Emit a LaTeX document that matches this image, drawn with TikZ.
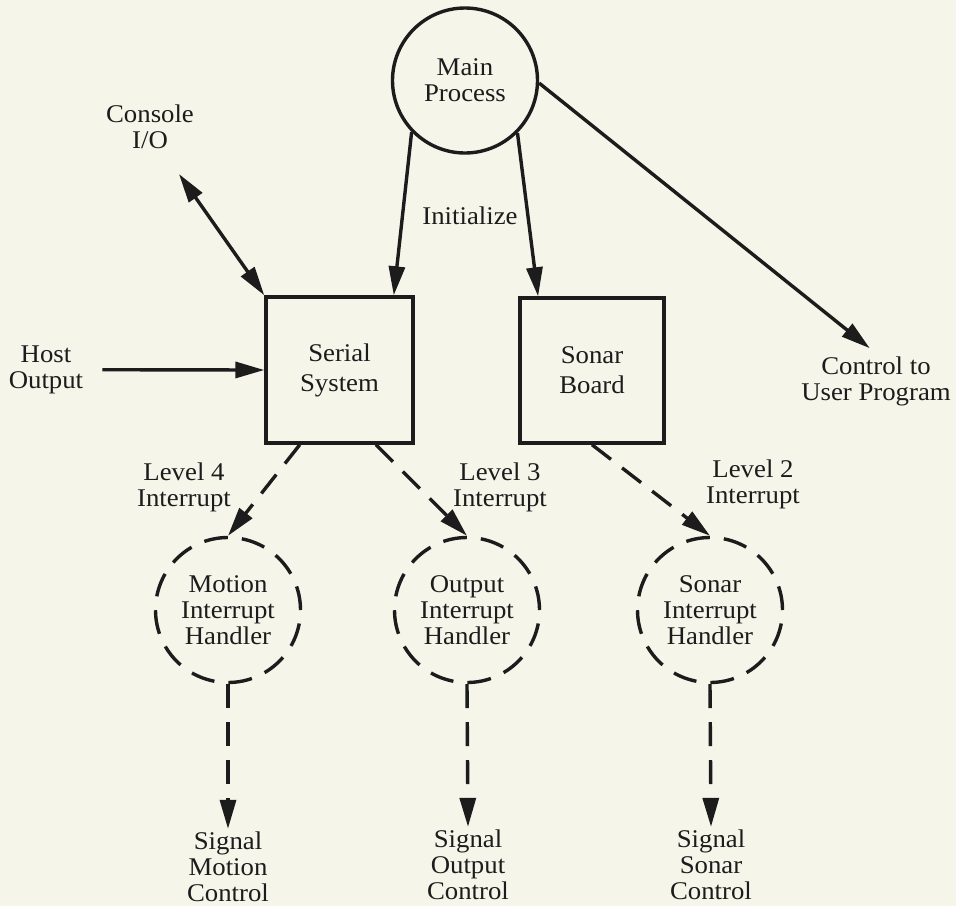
\documentclass[tikz,border=0pt]{standalone}
\usepackage{fontspec}
\setmainfont{Liberation Serif}[FakeStretch=1.05]
\usetikzlibrary{arrows.meta}
\definecolor{paper}{RGB}{245,245,234}
\definecolor{ink}{RGB}{28,28,28}
\begin{document}
\begin{tikzpicture}[x=1pt,y=-1pt,
  every node/.style={font=\fontsize{25.5}{26}\selectfont, text=ink},
  lbl/.style={align=center, inner sep=3pt},
  proc/.style={circle, draw=ink, line width=3.4pt, minimum size=145pt, inner sep=0pt, align=center},
  handler/.style={proc, dash pattern=on 24pt off 14pt},
  unit/.style={rectangle, draw=ink, line width=3.4pt, align=center, inner sep=0pt},
  tip/.tip={Triangle[length=29pt,width=16pt]},
  flow/.style={draw=ink, line width=3.4pt, -tip},
  both/.style={draw=ink, line width=3.4pt, tip-tip},
  signal/.style={flow, dash pattern=on 24pt off 14pt}
]
% paper
\fill[paper] (0,0) rectangle (956,906);
\useasboundingbox (0,0) rectangle (956,906);

% processes and units
\node[proc] (main) at (465,80.5) {Main\\Process};
\node[unit, minimum width=147pt, minimum height=146pt] (ser) at (339.5,370) {Serial\\[4pt]System};
\node[unit, minimum width=144pt, minimum height=145pt] (son) at (592,370.5) {Sonar\\[4pt]Board};

% interrupt handlers
\node[handler] (mot) at (228,610) {Motion\\Interrupt\\Handler};
\node[handler] (out) at (467,610) {Output\\Interrupt\\Handler};
\node[handler] (sih) at (710,610) {Sonar\\Interrupt\\Handler};

% labels
\node[lbl] (con) at (150,126.6) {Console\\I/O};
\node[lbl] (host) at (46,369.7) {Host\\Output};
\node[lbl] (init) at (470,215.5) {Initialize};
\node[lbl] (ctl) at (876,381) {Control to\\User Program};
\node[lbl] (l4) at (184,487) {Level 4\\Interrupt};
\node[lbl] (l3) at (500,487) {Level 3\\Interrupt};
\node[lbl] (l2) at (753,484) {Level 2\\Interrupt};
\node[lbl] (s1) at (228,867) {Signal\\Motion\\Control};
\node[lbl] (s2) at (468,865) {Signal\\Output\\Control};
\node[lbl] (s3) at (711,865) {Signal\\Sonar\\Control};

% solid connectors
\coordinate (cio) at (179,174);
\draw[both] (cio) -- (ser.north west);
\draw[flow, shorten <=16pt] (host.east) -- (ser.west);
\draw[flow] (main.-136) -- (ser.54);
\draw[flow] (main.-45) -- (son.126);
\draw[flow, shorten >=8pt] (main.-2) -- (ctl.north);

% interrupts and signals
\draw[signal] (ser.-118) -- (mot.north);
\draw[signal] (ser.-64) -- (out.north);
\draw[signal] (son.south) -- (sih.north);
\draw[signal] (mot.south) -- (s1.north);
\draw[signal] (out.south) -- (s2.north);
\draw[signal] (sih.south) -- (s3.north);
\end{tikzpicture}
\end{document}
